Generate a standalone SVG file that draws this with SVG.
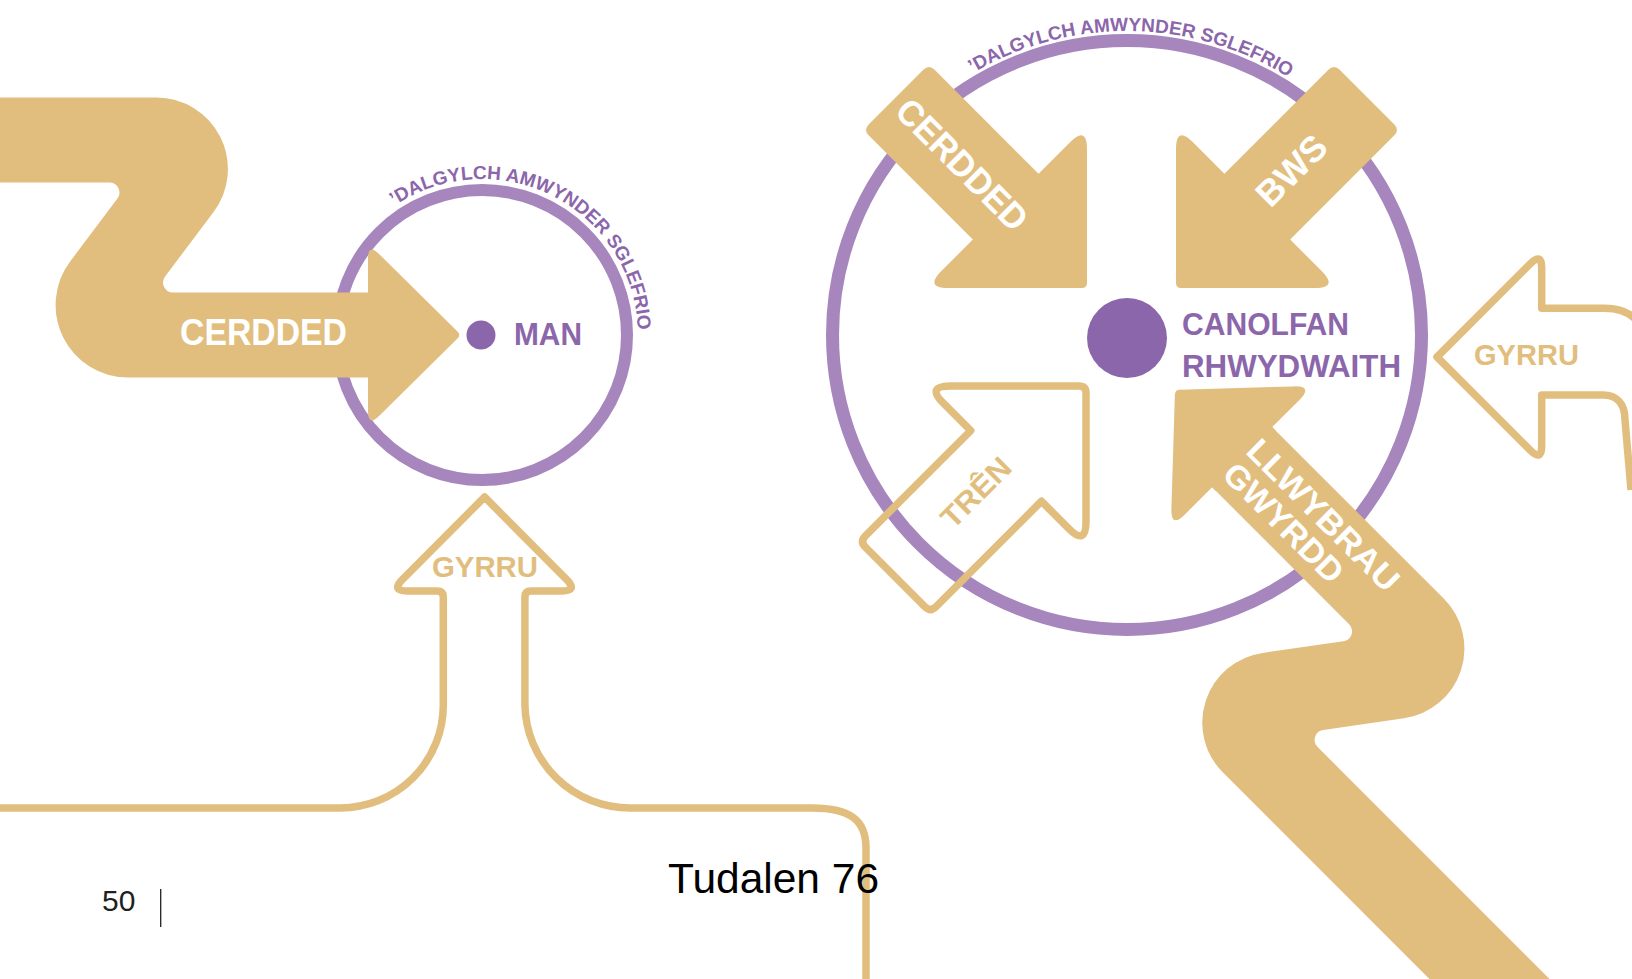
<svg xmlns="http://www.w3.org/2000/svg" width="1632" height="979" viewBox="0 0 1632 979">
<style>
.bg{fill:#ffffff}
.ring{fill:none;stroke:#A686BD}
.dot{fill:#8C66AB}
.lbl{font-family:"Liberation Sans",Arial,sans-serif;font-weight:bold;fill:#8C66AB}
.arc{font-family:"Liberation Sans",Arial,sans-serif;font-weight:bold;font-size:19px;fill:#8C66AB}
.solid{fill:#E1BE7E}
.outline{fill:none;stroke:#E1BE7E;stroke-width:7.5;stroke-linejoin:round;stroke-linecap:butt}
.wt{font-family:"Liberation Sans",Arial,sans-serif;font-weight:bold;fill:#ffffff}
.tt{font-family:"Liberation Sans",Arial,sans-serif;font-weight:bold;fill:#E1BE7E}
.page{font-family:"Liberation Sans",Arial,sans-serif}
</style>
<defs>
<path id="arcL" d="M 394.8 205.7 A 156 156 0 0 1 635.6 362.1"/>
<path id="arcR" d="M 972.7 73.1 A 304 304 0 0 1 1342 120"/>
<path id="solidArrow" d="M -3.5 -3.5 Q 0 0 -3.5 3.5 L -98 98 Q -115 115 -115 91 L -115 46.5 L -262 46.5 Q -270 46.5 -270 38.5 L -270 -38.5 Q -270 -46.5 -262 -46.5 L -115 -46.5 L -115 -91 Q -115 -115 -98 -98 Z"/>
</defs>
<rect class="bg" x="0" y="0" width="1632" height="979"/>

<g id="node-man">
  <circle class="ring" cx="482" cy="335" r="145" stroke-width="12"/>
  <circle class="dot" cx="481" cy="335" r="14.5"/>
  <text class="lbl" x="514" y="345" font-size="32" textLength="68" lengthAdjust="spacingAndGlyphs">MAN</text>
  <text class="arc"><textPath href="#arcL">’DALGYLCH AMWYNDER SGLEFRIO</textPath></text>
</g>

<g id="node-canolfan">
  <circle class="ring" cx="1127" cy="335" r="294.5" stroke-width="13"/>
  <circle class="dot" cx="1127" cy="338" r="40"/>
  <text class="lbl" x="1182" y="335" font-size="32" textLength="167" lengthAdjust="spacingAndGlyphs">CANOLFAN</text>
  <text class="lbl" x="1182" y="377" font-size="32" textLength="219" lengthAdjust="spacingAndGlyphs">RHWYDWAITH</text>
  <text class="arc"><textPath href="#arcR">’DALGYLCH AMWYNDER SGLEFRIO</textPath></text>
</g>

<g id="connectors">
  <g id="arrow-cerdded-left">
    <path class="solid" d="M -20 97.5 L 156.4 97.5 A 71.5 71.5 0 0 1 213.6 211.9 L 165.1 276.5 A 10 10 0 0 0 173.1 292.5 L 372 292.5 L 372 377.5 L 128.1 377.5 A 72.5 72.5 0 0 1 70.1 261.5 L 117.4 198.5 A 10 10 0 0 0 109.4 182.5 L -20 182.5 Z"/>
    <path class="solid" d="M 457.5 331.5 Q 461 335 457.5 338.5 L 379.3 415.7 Q 368 427 368 411 L 368 259 Q 368 243 379.3 254.3 Z"/>
    <text class="wt" x="180" y="345" font-size="36" textLength="167" lengthAdjust="spacingAndGlyphs">CERDDED</text>
  </g>
  <g id="arrow-gyrru-left">
    <path class="outline" d="M -10 808 L 340 808 A 103 103 0 0 0 443.3 705 L 443.3 597 Q 443.3 591 437.3 591 L 407 591 Q 391 591 402.3 579.7 L 484.6 497 L 566.7 579.7 Q 578 591 562 591 L 531 591 Q 524.9 591 524.9 597 L 524.9 705 A 105 105 0 0 0 630 808 L 812 808 C 850 808 866 820 866 848 L 866 990"/>
    <text class="tt" x="485" y="577" font-size="30" text-anchor="middle" textLength="106" lengthAdjust="spacingAndGlyphs">GYRRU</text>
  </g>
  <g id="arrow-cerdded-right">
    <use href="#solidArrow" class="solid" transform="translate(1087,288) rotate(45)"/>
    <text class="wt" transform="translate(962.5,164.2) rotate(45)" x="0" y="13" font-size="36" text-anchor="middle" textLength="170" lengthAdjust="spacingAndGlyphs">CERDDED</text>
  </g>
  <g id="arrow-bws">
    <use href="#solidArrow" class="solid" transform="translate(1176,288) rotate(135)"/>
    <text class="wt" transform="translate(1291,170) rotate(-45)" x="0" y="13" font-size="36" text-anchor="middle" textLength="84" lengthAdjust="spacingAndGlyphs">BWS</text>
  </g>
  <g id="arrow-tren">
    <path class="outline" transform="translate(1086,386) rotate(-45)" d="M -5 -5 Q 0 0 -5 5 L -96 96 Q -113 113 -113 89 L -113 50 L -262 50 Q -270 50 -270 42 L -270 -42 Q -270 -50 -262 -50 L -113 -50 L -113 -89 Q -113 -113 -96 -96 Z"/>
    <text class="tt" transform="translate(975.5,492) rotate(-45)" x="0" y="11" font-size="30" text-anchor="middle" textLength="86" lengthAdjust="spacingAndGlyphs">TRÊN</text>
  </g>
  <g id="arrow-llwybrau">
    <path class="solid" d="M 1265 420 L 1443.7 598.6 A 70.5 70.5 0 0 1 1404 718.3 L 1323.3 730 A 10 10 0 0 0 1317.6 747 L 1640 1069.4 L 1560 1109.6 L 1223 772.6 A 70.5 70.5 0 0 1 1262.7 652.9 L 1343.4 641.2 A 10 10 0 0 0 1349.1 624.2 L 1205 480 Z"/>
    <path class="solid" transform="translate(1175,390) rotate(225)" d="M -3.4 -3.6 Q 0 0 -3.4 3.6 L -81.3 86.4 Q -95 101 -95 81 L -95 42.5 L -100 42.5 L -100 -42.5 L -95 -42.5 L -95 -81 Q -95 -101 -81.3 -86.4 Z"/>
    <g transform="translate(1241,456) rotate(45)">
      <text class="wt" x="0" y="-5" font-size="33" textLength="200" lengthAdjust="spacingAndGlyphs">LLWYBRAU</text>
      <text class="wt" x="0" y="28.5" font-size="33" textLength="155" lengthAdjust="spacingAndGlyphs">GWYRDD</text>
    </g>
  </g>
  <g id="arrow-gyrru-right">
    <path class="outline" d="M 1640 324 Q 1628 308.3 1605 308.3 L 1541.7 308.3 L 1541.7 268 Q 1541.7 252.3 1530.4 263.6 L 1437 357 L 1530.4 450.4 Q 1541.7 461.7 1541.7 446 L 1541.7 395 L 1603 395 C 1616 395 1625 403 1625 420 L 1631 490"/>
    <text class="tt" x="1474" y="365" font-size="30" textLength="105" lengthAdjust="spacingAndGlyphs">GYRRU</text>
  </g>
</g>

<g id="page-furniture">
  <text class="page" x="102" y="911" font-size="30" fill="#231F20">50</text>
  <line x1="160.7" y1="889" x2="160.7" y2="927" stroke="#231F20" stroke-width="1.3"/>
  <text class="page" x="668" y="893" font-size="42.5" fill="#000000">Tudalen 76</text>
</g>
</svg>
